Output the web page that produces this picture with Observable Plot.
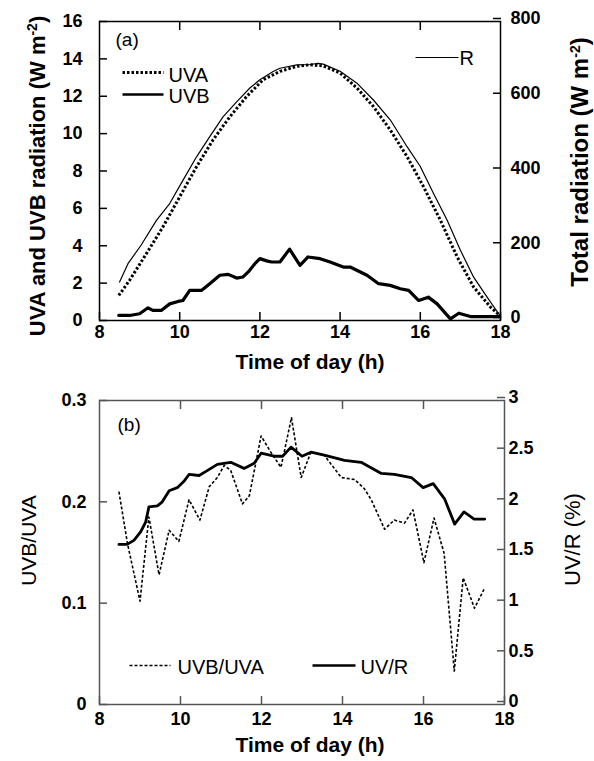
<!DOCTYPE html>
<html><head><meta charset="utf-8">
<script src="https://cdn.jsdelivr.net/npm/d3@7"></script>
<script src="https://cdn.jsdelivr.net/npm/@observablehq/plot@0.6"></script>
<style>body{margin:0;background:#fff;} #chart svg{display:block;}</style>
</head><body><div id="chart"></div>
<script>
// ---- Panel (a) data ----
const rTime = [8.5, 8.71, 9.04, 9.42, 9.75, 10.08, 10.42, 10.75, 11.08, 11.42, 11.75, 12.0, 12.33, 12.5, 12.92, 13.25, 13.45, 13.58, 14.0, 14.42, 14.83, 15.25, 15.67, 16.0, 16.33, 16.67, 17.0, 17.33, 17.67, 17.98];
const rVal  = [103, 152, 202, 268, 313, 375, 438, 492, 545, 585, 622, 644, 666, 675, 684, 685, 688, 686, 667, 635, 590, 537, 465, 412, 340, 268, 188, 116, 62, 14]; // W m-2
const uvaTime = [8.48, 8.75, 9.17, 9.58, 10.0, 10.42, 10.83, 11.25, 11.67, 12.08, 12.5, 12.92, 13.25, 13.58, 14.0, 14.42, 14.83, 15.25, 15.67, 16.08, 16.5, 16.92, 17.33, 17.75, 17.98];
const uvaVal  = [1.34, 2.15, 3.58, 5.0, 6.62, 8.23, 9.66, 10.9, 11.99, 12.88, 13.33, 13.6, 13.69, 13.62, 13.24, 12.44, 11.45, 10.2, 8.77, 7.16, 5.37, 3.4, 1.79, 0.72, 0.27];
const uvbTime = [8.48, 8.75, 9.0, 9.21, 9.33, 9.54, 9.75, 9.96, 10.08, 10.25, 10.54, 10.75, 11.0, 11.21, 11.42, 11.58, 11.71, 11.875, 12.0, 12.17, 12.29, 12.5, 12.74, 13.0, 13.2, 13.5, 13.75, 14.08, 14.25, 14.67, 14.96, 15.25, 15.5, 15.71, 15.96, 16.2, 16.42, 16.75, 16.96, 17.25, 17.98];
const uvbVal  = [0.27, 0.27, 0.36, 0.68, 0.54, 0.54, 0.89, 1.02, 1.07, 1.61, 1.61, 1.97, 2.42, 2.47, 2.27, 2.33, 2.6, 3.04, 3.31, 3.19, 3.13, 3.13, 3.82, 2.95, 3.4, 3.31, 3.13, 2.86, 2.86, 2.42, 1.97, 1.88, 1.7, 1.61, 1.07, 1.25, 0.89, 0.09, 0.39, 0.21, 0.21];

// ---- Panel (b) data ----
const ratioTime = [8.48, 8.69, 9.0, 9.22, 9.47, 9.72, 9.96, 10.21, 10.48, 10.71, 10.91, 11.08, 11.24, 11.53, 11.7, 11.99, 12.23, 12.48, 12.74, 12.98, 13.22, 13.55, 13.97, 14.3, 14.54, 14.71, 15.04, 15.28, 15.53, 15.74, 16.01, 16.26, 16.51, 16.76, 16.98, 17.26, 17.51];
const ratioVal  = [0.210, 0.159, 0.102, 0.185, 0.128, 0.172, 0.161, 0.202, 0.182, 0.215, 0.224, 0.236, 0.231, 0.198, 0.206, 0.265, 0.249, 0.234, 0.283, 0.224, 0.249, 0.246, 0.224, 0.222, 0.213, 0.202, 0.173, 0.182, 0.179, 0.192, 0.140, 0.184, 0.149, 0.033, 0.125, 0.095, 0.115];
const uvrTime = [8.48, 8.68, 8.85, 9.01, 9.14, 9.22, 9.43, 9.55, 9.72, 9.92, 10.08, 10.21, 10.46, 10.67, 10.91, 11.24, 11.57, 11.82, 11.99, 12.31, 12.52, 12.73, 13.0, 13.22, 13.55, 14.05, 14.46, 14.96, 15.28, 15.7, 15.99, 16.24, 16.52, 16.77, 17.0, 17.25, 17.51];
const uvrVal  = [1.58, 1.58, 1.62, 1.70, 1.80, 1.95, 1.96, 2.00, 2.11, 2.14, 2.20, 2.27, 2.26, 2.31, 2.37, 2.39, 2.33, 2.38, 2.48, 2.45, 2.45, 2.54, 2.45, 2.49, 2.46, 2.41, 2.39, 2.28, 2.27, 2.24, 2.14, 2.18, 2.03, 1.78, 1.90, 1.83, 1.83]; // %

// ---- ticks & labels ----
const xTicks = [8, 10, 12, 14, 16, 18];
const topTicks = [10, 12, 14, 16];
const aLeftTicks = [0, 2, 4, 6, 8, 10, 12, 14, 16];
const aRightTicks = [0, 200, 400, 600, 800];
const bLeftTicks = [0, 0.1, 0.2, 0.3];
const bRightTicks = [0, 0.5, 1, 1.5, 2, 2.5, 3];
const xTitle = "Time of day (h)";
const aLeftTitle = "UVA and UVB radiation (W m-2)";
const aRightTitle = "Total radiation (W m-2)";
const bLeftTitle = "UVB/UVA";
const bRightTitle = "UV/R (%)";

const FONT = "'Liberation Sans', Arial, Helvetica, sans-serif";
const R_FACTOR = 50;   // right axis (a): W m-2 per left unit
const P_FACTOR = 10;   // right axis (b): % per left unit

const hline = {draw(ctx, l) { ctx.moveTo(0, 0); ctx.lineTo(l, 0); }};
function swatch(frameAnchor, dx, dy, len, opts) {
  return Plot.vector([0], {frameAnchor, dx, dy, length: len, rotate: 0, anchor: "start", shape: hline, stroke: "black", strokeLinecap: "butt", ...opts});
}
function label(str, frameAnchor, dx, dy, opts) {
  return Plot.text([str], {text: d => d, frameAnchor, dx, dy, fill: "black", lineAnchor: "middle", textAnchor: "middle", ...opts});
}

const panelA = Plot.plot({
  width: 594, height: 380,
  marginLeft: 99, marginRight: 94, marginTop: 21, marginBottom: 60,
  style: {fontFamily: FONT, fontSize: "18px", fontWeight: "bold", color: "black", background: "white", overflow: "visible"},
  x: {domain: [8, 18]},
  y: {domain: [0, 16]},
  marks: [
    Plot.frame({stroke: "black", strokeWidth: 1.5}),
    Plot.axisX({anchor: "bottom", ticks: xTicks, tickSize: -8, tickPadding: 13, label: null, tickFormat: d => String(d), strokeWidth: 1.5}),
    Plot.axisX({anchor: "top", ticks: topTicks, tickSize: -8, label: null, tickFormat: () => "", strokeWidth: 1.5}),
    Plot.axisY({anchor: "left", ticks: aLeftTicks, tickSize: -8, tickPadding: 25, label: null, tickFormat: d => String(d), strokeWidth: 1.5}),
    Plot.axisY({anchor: "right", ticks: aRightTicks.map(v => v / R_FACTOR), tickSize: -8, tickPadding: 18, dy: -3, label: null, tickFormat: d => String(Math.round(d * R_FACTOR)), strokeWidth: 1.5}),
    Plot.line(rVal, {x: rTime, y: rVal.map(v => v / R_FACTOR), stroke: "black", strokeWidth: 1.2}),
    Plot.line(uvaVal, {x: uvaTime, y: uvaVal, stroke: "black", strokeWidth: 3, strokeDasharray: "2.5,2", strokeLinecap: "butt"}),
    Plot.line(uvbVal, {x: uvbTime, y: uvbVal, stroke: "black", strokeWidth: 3.2}),
    label("(a)", "top-left", 16, 18, {textAnchor: "start", fontSize: 19, fontWeight: "normal"}),
    swatch("top-left", 23, 51, 41, {strokeWidth: 3, strokeDasharray: "2.5,2"}),
    label("UVA", "top-left", 69, 54, {textAnchor: "start", fontSize: 20, fontWeight: "normal"}),
    swatch("top-left", 23, 73, 41, {strokeWidth: 2.5}),
    label("UVB", "top-left", 69, 75, {textAnchor: "start", fontSize: 20, fontWeight: "normal"}),
    swatch("top-right", -85, 36, 43, {strokeWidth: 1.2}),
    label("R", "top-right", -41, 37, {textAnchor: "start", fontSize: 20, fontWeight: "normal"}),
    label(xTitle, "bottom", 10, 42, {fontSize: 21}),
    label(aLeftTitle, "left", -62, 5, {rotate: -90, fontSize: 22}),
    label(aRightTitle, "right", 80, -9, {rotate: -90, fontSize: 24})
  ]
});

const panelB = Plot.plot({
  width: 594, height: 381,
  marginLeft: 99, marginRight: 90, marginTop: 20, marginBottom: 57,
  style: {fontFamily: FONT, fontSize: "18px", fontWeight: "bold", color: "black", background: "white", overflow: "visible"},
  x: {domain: [8, 18]},
  y: {domain: [0, 0.3]},
  marks: [
    Plot.frame({stroke: "#555", strokeWidth: 1.5}),
    Plot.axisX({anchor: "bottom", ticks: xTicks, tickSize: -8, tickPadding: 16, label: null, tickFormat: d => String(d), stroke: "#555", strokeWidth: 1.5}),
    Plot.axisX({anchor: "top", ticks: topTicks, tickSize: -8, label: null, tickFormat: () => "", stroke: "#555", strokeWidth: 1.5}),
    Plot.axisY({anchor: "left", ticks: bLeftTicks, tickSize: -8, tickPadding: 21, label: null, tickFormat: d => d === 0 ? "0" : d.toFixed(1), stroke: "#555", strokeWidth: 1.5}),
    Plot.axisY({anchor: "right", ticks: bRightTicks.map(v => v / P_FACTOR), tickSize: -8, tickPadding: 12, dy: -3, label: null, tickFormat: d => String(+(d * P_FACTOR).toFixed(1)), stroke: "#555", strokeWidth: 1.5}),
    Plot.line(ratioVal, {x: ratioTime, y: ratioVal, stroke: "black", strokeWidth: 1.6, strokeDasharray: "3,2", strokeLinecap: "butt"}),
    Plot.line(uvrVal, {x: uvrTime, y: uvrVal.map(v => v / P_FACTOR), stroke: "black", strokeWidth: 2.8}),
    label("(b)", "top-left", 18, 24, {textAnchor: "start", fontSize: 19, fontWeight: "normal"}),
    swatch("bottom-left", 30, -39, 41, {strokeWidth: 1.6, strokeDasharray: "3,2"}),
    label("UVB/UVA", "bottom-left", 78, -37, {textAnchor: "start", fontSize: 20, fontWeight: "normal"}),
    swatch("bottom-left", 213, -39, 43, {strokeWidth: 2.5}),
    label("UV/R", "bottom-left", 261, -37, {textAnchor: "start", fontSize: 20, fontWeight: "normal"}),
    label(xTitle, "bottom", 8, 41, {fontSize: 21}),
    label(bLeftTitle, "left", -70, -12, {rotate: -90, fontSize: 21, fontWeight: "normal"}),
    label(bRightTitle, "right", 68, -13, {rotate: -90, fontSize: 22, fontWeight: "normal"})
  ]
});

const chart = document.getElementById("chart");
chart.append(panelA, panelB);

// superscript "-2" in unit labels
const NS = "http://www.w3.org/2000/svg";
for (const t of chart.querySelectorAll("text")) {
  const s = t.textContent;
  if (s.endsWith("(W m-2)") && t.children.length === 0) {
    t.textContent = "";
    t.append(s.slice(0, -3));
    const sup = document.createElementNS(NS, "tspan");
    sup.setAttribute("dy", "-8");
    sup.setAttribute("font-size", "14");
    sup.textContent = "-2";
    const close = document.createElementNS(NS, "tspan");
    close.setAttribute("dy", "8");
    close.textContent = ")";
    t.append(sup, close);
  }
}
</script>
</body></html>
